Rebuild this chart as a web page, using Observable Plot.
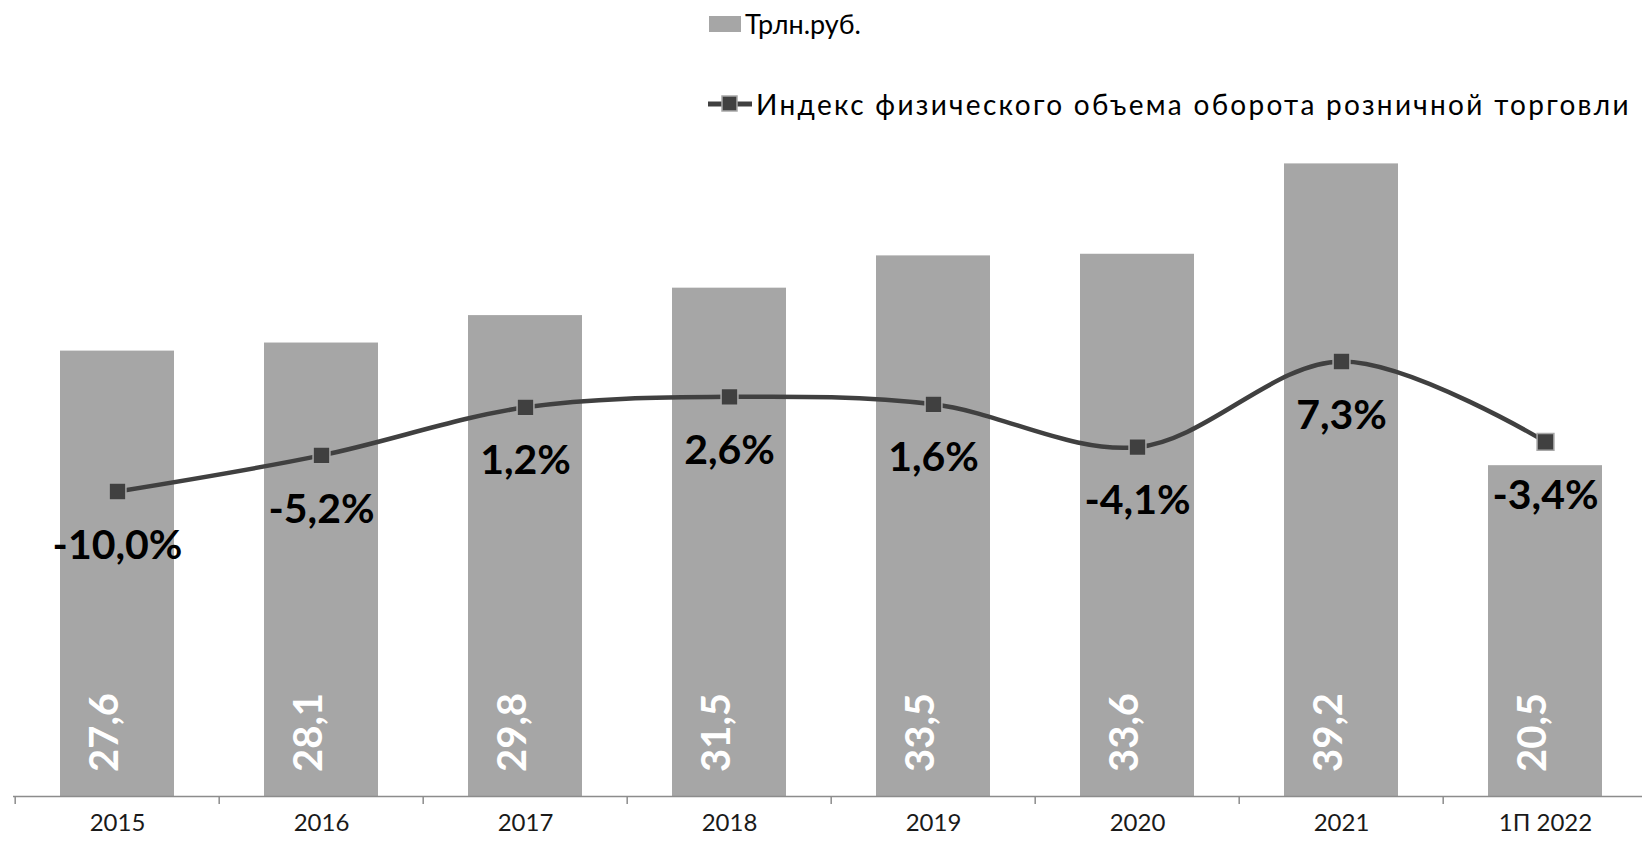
<!DOCTYPE html>
<html>
<head>
<meta charset="utf-8">
<script src="https://cdn.jsdelivr.net/npm/d3@7"></script>
<script src="https://cdn.jsdelivr.net/npm/@observablehq/plot@0.6"></script>
<style>
  html, body { margin: 0; padding: 0; background: #fff; color: #000; font-family: Lato, "Open Sans", sans-serif; }
  #wrap { position: relative; width: 1642px; height: 843px; overflow: hidden; background: #fff; }
  #legend { position: absolute; left: 0; top: 0; width: 1642px; height: 140px; }
  .lg-text { position: absolute; font-size: 28px; line-height: 28px; white-space: nowrap; color: #000; }
  .lg-swatch { position: absolute; background: #a6a6a6; }
  .lg-sym { position: absolute; }
  #chart { position: absolute; left: 0; top: 140px; }
</style>
</head>
<body>
<div id="wrap">
  <div id="legend">
    <div class="lg-swatch" style="left:709px;top:16px;width:32px;height:16px;"></div>
    <div class="lg-text" style="left:745px;top:10px;font-size:27px;">Трлн.руб.</div>
    <svg class="lg-sym" style="left:706px;top:92px;" width="50" height="24">
      <line x1="2" y1="12" x2="46" y2="12" stroke="#404040" stroke-width="5"/>
      <rect x="16" y="4" width="15" height="15" fill="#404040" stroke="#a8a8a8" stroke-width="1.5"/>
    </svg>
    <div class="lg-text" style="left:756px;top:90px;letter-spacing:2.3px;">Индекс физического объема оборота розничной торговли</div>
  </div>
  <div id="chart"></div>
</div>
<script>
// Data
const categories = ["2015", "2016", "2017", "2018", "2019", "2020", "2021", "1П 2022"];
const turnover = [27.6, 28.1, 29.8, 31.5, 33.5, 33.6, 39.2, 20.5];          // трлн руб.
const volumeIndex = [-10.0, -5.2, 1.2, 2.6, 1.6, -4.1, 7.3, -3.4];          // %
// secondary (index) axis domain, aligned to the turnover axis [0, 39.2]
const turnoverDomain = [0, 39.2];
const indexDomain = [-50.6, 33.6];

const commaFmt = (v, digits) => v.toFixed(digits).replace(".", ",");
const data = categories.map((c, i) => ({cat: c, value: turnover[i], idx: volumeIndex[i]}));
const idxToY = d3.scaleLinear().domain(indexDomain).range(turnoverDomain);

const xRange = [13, 1650];
const step = (xRange[1] - xRange[0]) / categories.length;

const chart = Plot.plot({
  width: 1642,
  height: 703,
  marginLeft: 13,
  marginRight: 0,
  marginTop: 23.4,
  marginBottom: 47,
  style: {fontFamily: "Lato, 'Open Sans', sans-serif", background: "transparent", color: "#000", overflow: "visible"},
  x: {domain: categories, range: xRange, paddingInner: 0.44, paddingOuter: 0.22, axis: null},
  y: {domain: turnoverDomain, axis: null},
  marks: [
    Plot.barY(data, {x: "cat", y: "value", fill: "#a6a6a6"}),
    Plot.ruleY([0], {stroke: "#8c8c8c", strokeWidth: 1.5}),
    Plot.ruleX(data, {x: "cat", y1: 0, y2: 0, dx: -step / 2, insetBottom: -8, stroke: "#8c8c8c", strokeWidth: 1.5}),
    Plot.text(categories, {
      x: d => d, frameAnchor: "bottom", dy: 34, text: d => d,
      fontSize: 24, fontWeight: 400, fill: "#1a1a1a"
    }),
    Plot.text(data, {
      x: "cat", frameAnchor: "bottom", dy: -64, rotate: -90,
      text: d => commaFmt(d.value, 1), fill: "#fff", fontSize: 40, fontWeight: "bold"
    }),
    Plot.line(data, {x: "cat", y: d => idxToY(d.idx), curve: "catmull-rom", stroke: "#404040", strokeWidth: 4.5}),
    Plot.dot(data, {x: "cat", y: d => idxToY(d.idx), symbol: "square", r: 9.5, fill: "#404040", stroke: "#a8a8a8", strokeWidth: 1.5}),
    Plot.text(data, {
      x: "cat", y: d => idxToY(d.idx), dy: 54,
      text: d => commaFmt(d.idx, 1) + "%", fill: "#000", fontSize: 41, fontWeight: "bold"
    })
  ]
});
document.getElementById("chart").appendChild(chart);
</script>
</body>
</html>
